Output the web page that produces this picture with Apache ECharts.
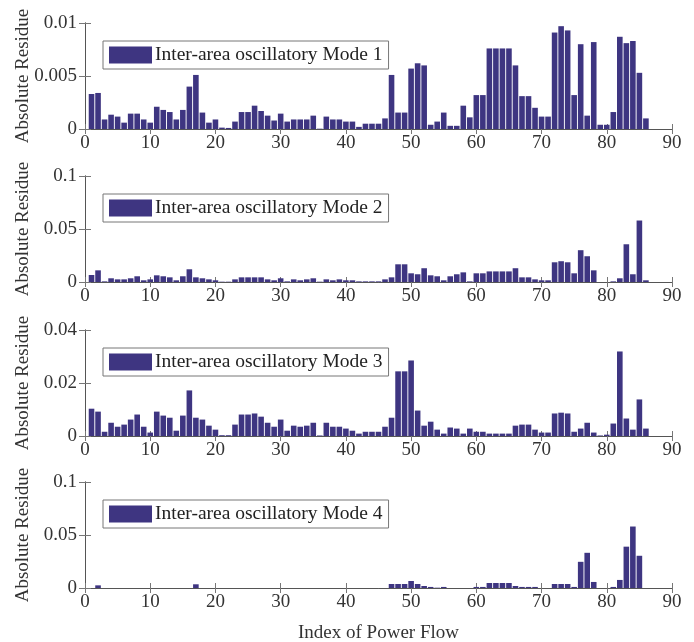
<!DOCTYPE html>
<html>
<head>
<meta charset="utf-8">
<script src="https://cdn.jsdelivr.net/npm/echarts@6/dist/echarts.min.js"></script>
<style>
html, body { margin: 0; background: #fff; }
#chart { width: 694px; height: 642px; }
</style>
</head>
<body>
<div id="chart"></div>
<script>
// index of power flow (x positions of the bars)
var flowIndex = [1,2,3,4,5,6,7,8,9,10,11,12,13,14,15,16,17,18,19,20,
    21,22,23,24,25,26,27,28,29,30,31,32,33,34,35,36,37,38,39,40,
    41,42,43,44,45,46,47,48,49,50,51,52,53,54,55,56,57,58,59,60,
    61,62,63,64,65,66,67,68,69,70,71,72,73,74,75,76,77,78,79,80,
    81,82,83,84,85,86];

var mode1 = [0.0033,0.0034,0.0009,0.00135,0.00117,0.0006,0.00145,0.00145,0.0009,0.0006,
    0.0021,0.0018,0.0016,0.0009,0.0018,0.004,0.0051,0.00155,0.0006,0.0009,
    0.00013,0.0001,0.0007,0.0016,0.0016,0.0022,0.0017,0.00126,0.0008,0.00145,
    0.0007,0.0009,0.0009,0.0009,0.00126,0.00003,0.00117,0.0009,0.0009,0.0007,
    0.0007,0.0002,0.0005,0.0005,0.0005,0.001,0.0051,0.00155,0.00155,0.0057,
    0.0062,0.006,0.0004,0.0007,0.00155,0.0003,0.0003,0.0022,0.0011,0.0032,
    0.0032,0.0076,0.0076,0.0076,0.0076,0.006,0.0031,0.0031,0.002,0.00117,
    0.00117,0.0091,0.0097,0.0093,0.0032,0.008,0.00126,0.0082,0.0004,0.0004,
    0.0016,0.0087,0.0081,0.0083,0.0053,0.001];

var mode2 = [0.0066,0.011,0.0006,0.0035,0.0025,0.0025,0.0035,0.0054,0.0016,0.0025,
    0.0063,0.0054,0.0044,0.0016,0.0054,0.012,0.0044,0.0035,0.0025,0.0016,
    0.0003,0.0003,0.0025,0.0044,0.0044,0.0044,0.0044,0.0025,0.0016,0.0035,
    0.0006,0.0025,0.0016,0.0025,0.0035,0.0003,0.0025,0.0016,0.0025,0.0016,
    0.0016,0.0006,0.0006,0.0006,0.0006,0.0025,0.0044,0.0167,0.0167,0.0082,
    0.0073,0.013,0.0063,0.0054,0.0016,0.0054,0.0073,0.0091,0.0006,0.0082,
    0.0082,0.01,0.01,0.01,0.01,0.013,0.0044,0.0044,0.0025,0.0016,
    0.0016,0.0186,0.0196,0.0186,0.0082,0.03,0.0243,0.011,0,0,
    0.0006,0.0035,0.0356,0.0073,0.058,0.0016];

var mode3 = [0.0103,0.0092,0.0016,0.005,0.0035,0.0043,0.0062,0.0081,0.0035,0.0013,
    0.0092,0.0077,0.0069,0.002,0.0077,0.0172,0.0069,0.0062,0.0039,0.0024,
    0.0003,0.0003,0.0043,0.0081,0.0081,0.0085,0.0073,0.005,0.0035,0.0062,
    0.002,0.0039,0.0035,0.0039,0.005,0.0002,0.005,0.0035,0.0035,0.0028,
    0.002,0.0009,0.0016,0.0016,0.0016,0.0035,0.0069,0.0244,0.0244,0.0285,
    0.0096,0.0039,0.0054,0.0024,0.0009,0.0032,0.0028,0.0009,0.0028,0.0016,
    0.0016,0.0009,0.0009,0.0009,0.0009,0.0039,0.0043,0.0043,0.0024,0.0013,
    0.0013,0.0085,0.0088,0.0085,0.0016,0.0028,0.005,0.0013,0.0002,0.0005,
    0.0047,0.0319,0.0066,0.0024,0.0138,0.0028];

var mode4 = [0,0.0025,0,0,0,0,0,0,0,0,
    0,0,0,0,0,0,0.0035,0,0,0,
    0,0,0,0,0,0,0,0,0,0,
    0,0,0,0,0,0,0,0,0,0,
    0,0,0,0,0,0,0.0038,0.0038,0.0038,0.0066,
    0.0038,0.0019,0.001,0.0003,0.001,0,0,0,0,0.001,
    0.001,0.0047,0.0047,0.0047,0.0047,0.0019,0.001,0.001,0.001,0,
    0,0.0038,0.0038,0.0038,0.001,0.0247,0.0332,0.0057,0,0,
    0.001,0.0076,0.039,0.058,0.0304,0];

var modeNames = ['Inter-area oscillatory Mode 1', 'Inter-area oscillatory Mode 2',
    'Inter-area oscillatory Mode 3', 'Inter-area oscillatory Mode 4'];
var yMax = [0.01, 0.1, 0.04, 0.1];
var yStep = [0.005, 0.05, 0.02, 0.05];
var xTicks = [0, 10, 20, 30, 40, 50, 60, 70, 80, 90];

var allModes = [mode1, mode2, mode3, mode4];
var panelTop = [23, 176, 330, 482];

var font = 'Liberation Serif';
var textColor = '#333';
var lineColor = '#555';
var barColor = '#3e3581';

var grids = [], xAxes = [], yAxes = [], legends = [], series = [];

for (var k = 0; k < 4; k++) {
    grids.push({ left: 85, width: 587, top: panelTop[k], height: 106, outerBoundsMode: 'none' });

    var baseX = {
        type: 'value', gridIndex: k, min: xTicks[0], max: xTicks[xTicks.length - 1], interval: 10,
        axisLine: { show: true, lineStyle: { color: lineColor, width: 1 } },
        axisTick: { show: true, inside: true, length: 5, lineStyle: { color: '#777' } },
        splitLine: { show: false }
    };
    xAxes.push(Object.assign({}, baseX, {
        position: 'bottom',
        axisLabel: { fontFamily: font, fontSize: 19, color: textColor, margin: 5 },
        name: k === 3 ? 'Index of Power Flow' : '',
        nameLocation: 'middle', nameGap: 36, nameMoveOverlap: false,
        nameTextStyle: { fontFamily: font, fontSize: 19, color: textColor }
    }));
    xAxes.push(Object.assign({}, baseX, { position: 'top', axisLabel: { show: false } }));

    var baseY = {
        type: 'value', gridIndex: k, min: 0, max: yMax[k], interval: yStep[k],
        axisLine: { show: true, lineStyle: { color: lineColor, width: 1 } },
        axisTick: { show: true, inside: true, length: 6, lineStyle: { color: '#777' } },
        splitLine: { show: false }
    };
    yAxes.push(Object.assign({}, baseY, {
        position: 'left',
        axisLabel: { fontFamily: font, fontSize: 19, color: textColor, margin: 8 },
        name: 'Absolute Residue', nameLocation: 'middle', nameGap: 52, nameMoveOverlap: false,
        nameTextStyle: { fontFamily: font, fontSize: 19, color: textColor }
    }));
    yAxes.push(Object.assign({}, baseY, { position: 'right', axisLabel: { show: false } }));

    legends.push({
        data: [modeNames[k]],
        left: 103, top: panelTop[k] + 18,
        orient: 'horizontal',
        icon: 'rect', itemWidth: 43, itemHeight: 17,
        padding: [4, 6, 4, 6],
        borderColor: '#777', borderWidth: 1,
        backgroundColor: '#fff',
        selectedMode: false,
        textStyle: { fontFamily: font, fontSize: 19.5, color: '#222', padding: [0, 0, 0, -2] }
    });

    var vals = allModes[k];
    series.push({
        name: modeNames[k], type: 'bar',
        xAxisIndex: 2 * k, yAxisIndex: 2 * k,
        barWidth: 5.6,
        itemStyle: { color: barColor },
        data: flowIndex.map(function (x, i) { return [x, vals[i]]; })
    });
}

var myChart = echarts.init(document.getElementById('chart'));
myChart.setOption({
    animation: false,
    backgroundColor: '#fff',
    grid: grids,
    xAxis: xAxes,
    yAxis: yAxes,
    legend: legends,
    series: series
});
</script>
</body>
</html>
